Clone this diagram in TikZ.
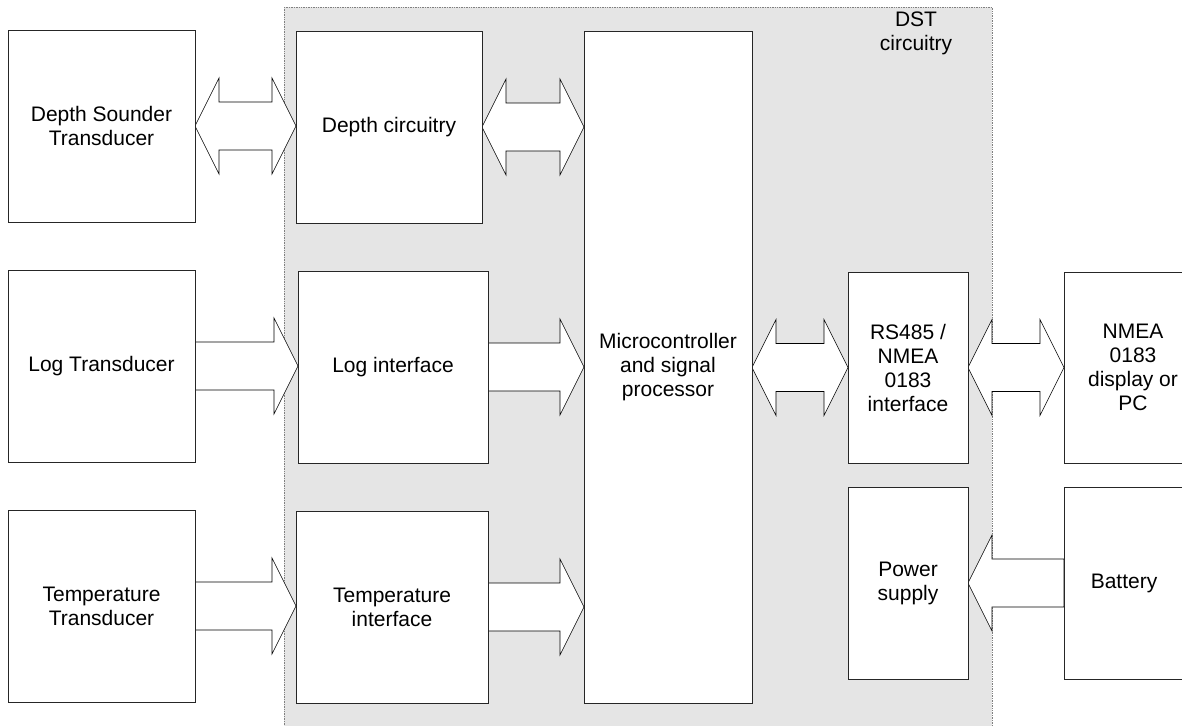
\documentclass[tikz,border=0pt]{standalone}
\usepackage{fontspec}
\setmainfont{Liberation Sans}
\usetikzlibrary{calc}
\pgfdeclarelayer{bg}
\pgfdeclarelayer{arr}
\pgfsetlayers{bg,arr,main}
\def\ahl{24pt}
\def\ahh{48pt}
\def\ash{24pt}
\newcommand\mydblarr[3]{%
  \draw[fat] let \p1=(#1.east),\p2=(#2.west),\p3=(#3.center) in
  (\x1,\y3)--(\x1+\ahl,\y3+\ahh)--(\x1+\ahl,\y3+\ash)--(\x2-\ahl,\y3+\ash)--(\x2-\ahl,\y3+\ahh)--(\x2,\y3)
  --(\x2-\ahl,\y3-\ahh)--(\x2-\ahl,\y3-\ash)--(\x1+\ahl,\y3-\ash)--(\x1+\ahl,\y3-\ahh)--cycle;}
\newcommand\myrarr[3]{%
  \draw[fat] let \p1=(#1.east),\p2=(#2.west),\p3=(#3.center) in
  (\x1,\y3+\ash)--(\x2-\ahl,\y3+\ash)--(\x2-\ahl,\y3+\ahh)--(\x2,\y3)--(\x2-\ahl,\y3-\ahh)--(\x2-\ahl,\y3-\ash)--(\x1,\y3-\ash)--cycle;}
\newcommand\mylarr[3]{%
  \draw[fat] let \p1=(#1.east),\p2=(#2.west),\p3=(#3.center) in
  (\x1,\y3)--(\x1+\ahl,\y3+\ahh)--(\x1+\ahl,\y3+\ash)--(\x2,\y3+\ash)--(\x2,\y3-\ash)--(\x1+\ahl,\y3-\ash)--(\x1+\ahl,\y3-\ahh)--cycle;}
\tikzset{
  box/.style={draw=black!85, fill=white, line width=0.8pt, inner sep=0pt, outer sep=0pt,
    align=center, anchor=north west, font=\fontsize{21}{24}\selectfont},
  fat/.style={draw=black, fill=white, line width=0.6pt, line join=miter},
  region/.style={fill=black!10, draw=black!50, densely dotted, line width=0.7pt},
  lbl/.style={align=center, inner sep=0pt, font=\fontsize{21}{24}\selectfont}
}
\begin{document}
\begin{tikzpicture}[x=1pt,y=-1pt]
\useasboundingbox (0,0) rectangle (1182,725);
\begin{pgfonlayer}{bg}
  \fill[white] (0,0) rectangle (1182,725);
  \path[region] (284,7) rectangle (992,740);
\end{pgfonlayer}
\node[lbl] (dst) at (916,33) {DST\\circuitry};
% left column
\node[box, minimum width=187pt, minimum height=192pt] (ds) at (8,30) {Depth Sounder\\Transducer};
\node[box, minimum width=187pt, minimum height=192pt] (lt) at (8,270) {Log Transducer};
\node[box, minimum width=187pt, minimum height=192pt] (tt) at (8,510) {Temperature\\Transducer};
% interfaces
\node[box, minimum width=186pt, minimum height=192pt] (dc) at (296,31) {Depth circuitry};
\node[box, minimum width=190pt, minimum height=192pt] (li) at (298,271) {Log interface};
\node[box, minimum width=192pt, minimum height=192pt] (ti) at (296,511) {Temperature\\interface};
% micro
\node[box, minimum width=168pt, minimum height=672pt] (mc) at (584,31) {Microcontroller\\and signal\\processor};
% right side
\node[box, minimum width=120pt, minimum height=191pt] (rs) at (848,272) {RS485 /\\NMEA\\0183\\interface};
\node[box, minimum width=138pt, minimum height=191pt] (nm) at (1064,272) {NMEA\\0183\\display or\\PC};
\node[box, minimum width=120pt, minimum height=192pt] (ps) at (848,487) {Power\\supply};
\node[box, minimum width=120pt, minimum height=192pt] (bt) at (1064,487) {Battery};
\begin{pgfonlayer}{arr}
  \mydblarr{ds}{dc}{ds}
  \mydblarr{dc}{mc}{dc}
  \myrarr{lt}{li}{lt}
  \myrarr{li}{mc}{li}
  \myrarr{tt}{ti}{tt}
  \myrarr{ti}{mc}{ti}
  \mydblarr{mc}{rs}{rs}
  \mydblarr{rs}{nm}{rs}
  \mylarr{ps}{bt}{ps}
\end{pgfonlayer}
\end{tikzpicture}
\end{document}
